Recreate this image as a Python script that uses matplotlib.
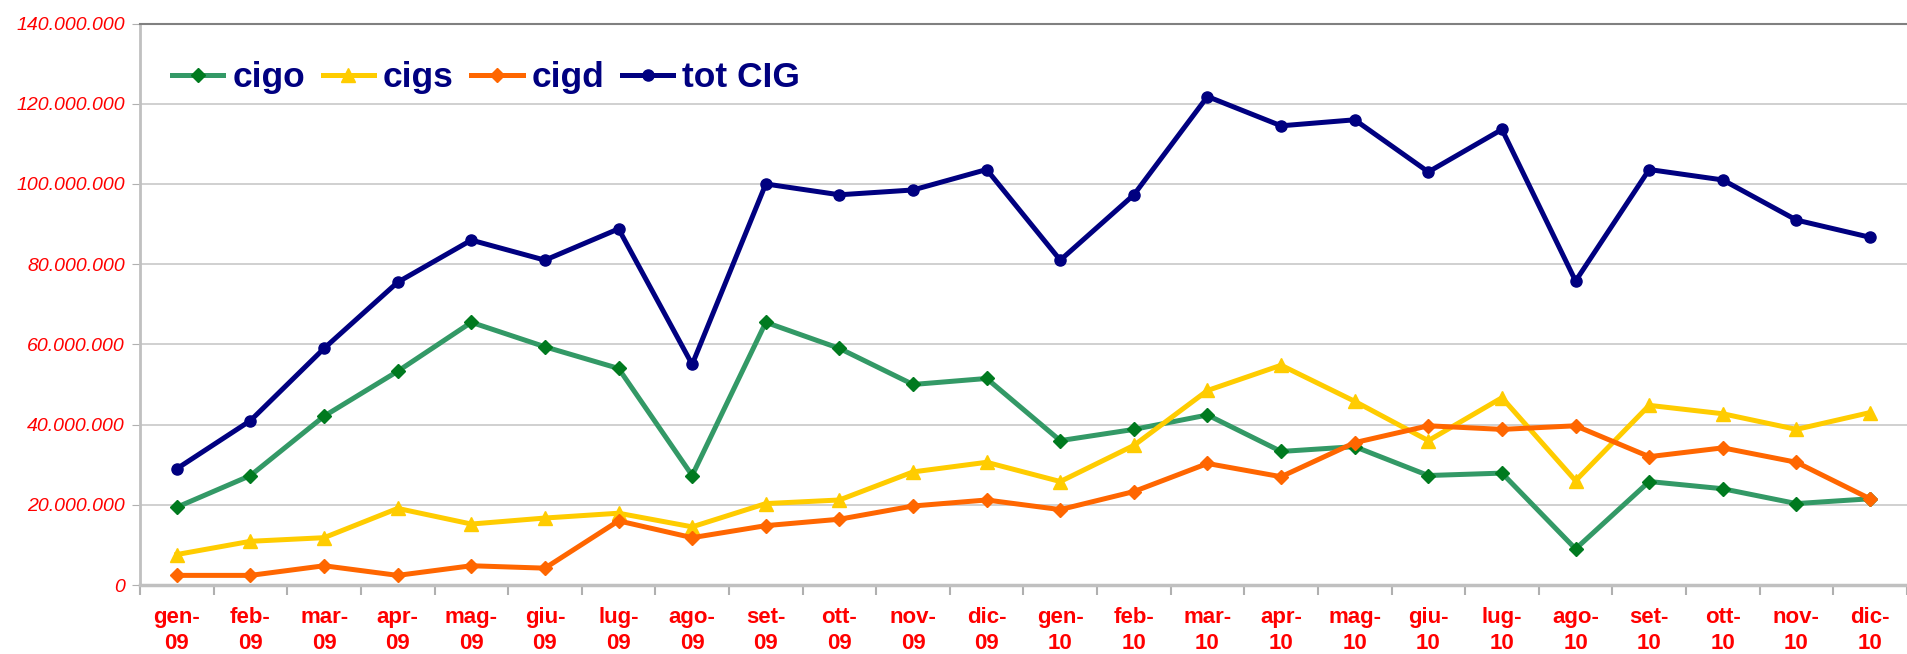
import matplotlib
matplotlib.use('Agg')
import matplotlib.pyplot as plt
from matplotlib.ticker import FuncFormatter

months = ['gen-\n09', 'feb-\n09', 'mar-\n09', 'apr-\n09', 'mag-\n09', 'giu-\n09',
          'lug-\n09', 'ago-\n09', 'set-\n09', 'ott-\n09', 'nov-\n09', 'dic-\n09',
          'gen-\n10', 'feb-\n10', 'mar-\n10', 'apr-\n10', 'mag-\n10', 'giu-\n10',
          'lug-\n10', 'ago-\n10', 'set-\n10', 'ott-\n10', 'nov-\n10', 'dic-\n10']

cigo = [19.4, 27.3, 42.1, 53.3, 65.5, 59.4, 54.0, 27.3, 65.5, 59.0, 50.0, 51.5,
        36.0, 38.8, 42.4, 33.3, 34.5, 27.3, 27.9, 9.0, 25.8, 24.0, 20.3, 21.5]
cigs = [7.6, 10.9, 11.8, 19.1, 15.2, 16.7, 17.9, 14.5, 20.3, 21.2, 28.2, 30.6,
        25.8, 34.8, 48.5, 54.8, 45.8, 36.0, 46.7, 26.0, 44.8, 42.7, 38.8, 43.0]
cigd = [2.4, 2.4, 4.8, 2.4, 4.8, 4.2, 16.0, 11.8, 14.8, 16.4, 19.7, 21.2,
        18.8, 23.3, 30.3, 27.0, 35.5, 39.7, 38.8, 39.7, 32.0, 34.2, 30.6, 21.5]
tot_cig = [29.0, 41.0, 59.0, 75.5, 86.0, 81.0, 88.8, 55.0, 100.0, 97.3, 98.5, 103.6,
           81.0, 97.3, 121.8, 114.5, 116.0, 103.0, 113.6, 75.8, 103.6, 101.0, 91.0, 86.7]

# values in millions -> units
scale = 1e6
x = list(range(len(months)))

plt.rcParams['font.family'] = ['Liberation Sans', 'DejaVu Sans']

fig = plt.figure(figsize=(19.08, 6.54), dpi=100)
ax = fig.add_axes([0.0734, 0.1055, 0.926, 0.8585])

lw = 3.6
ax.plot(x, [v * scale for v in cigo], color='#339966', lw=lw, marker='D', ms=7,
        mfc='#007a1f', mec='#007a1f', label='cigo', zorder=3)
ax.plot(x, [v * scale for v in cigs], color='#FFCC00', lw=lw, marker='^', ms=10,
        mfc='#FFCC00', mec='#FFCC00', label='cigs', zorder=3)
ax.plot(x, [v * scale for v in cigd], color='#FF6600', lw=lw, marker='D', ms=7,
        mfc='#FF6600', mec='#FF6600', label='cigd', zorder=3)
ax.plot(x, [v * scale for v in tot_cig], color='#000080', lw=lw, marker='o', ms=8,
        mfc='#000080', mec='#000080', label='tot CIG', zorder=4)

ax.set_xlim(-0.5, len(months) - 0.5)
ax.set_ylim(0, 140e6)
ax.set_yticks([i * 20e6 for i in range(8)])
ax.yaxis.set_major_formatter(FuncFormatter(lambda v, p: '{:,.0f}'.format(v).replace(',', '.')))
for lab in ax.get_yticklabels():
    lab.set_color('#FF0000')
    lab.set_fontstyle('italic')
    lab.set_fontsize(14)
ax.tick_params(axis='y', length=6, color='#b0b0b0', pad=5)

ax.set_xticks(x)
ax.set_xticklabels(months, color='#FF0000', fontweight='bold', fontsize=16,
                   linespacing=1.3)
ax.tick_params(axis='x', length=0, pad=16)
ax.set_xticks([i - 0.5 for i in range(len(months) + 1)], minor=True)
ax.tick_params(axis='x', which='minor', length=7, color='#b0b0b0', width=1.5)

ax.grid(axis='y', color='#c8c8c8', lw=1.2)
ax.set_axisbelow(True)
ax.spines['right'].set_visible(False)
ax.spines['top'].set_color('#808080')
ax.spines['top'].set_linewidth(1.5)
ax.spines['left'].set_color('#c0c0c0')
ax.spines['left'].set_linewidth(2)
ax.spines['bottom'].set_color('#c0c0c0')
ax.spines['bottom'].set_linewidth(2.5)

leg = ax.legend(loc='upper left', ncol=4, frameon=False, handlelength=1.45,
                columnspacing=0.5, handletextpad=0.25, borderaxespad=0.5,
                bbox_to_anchor=(0.0, 0.99),
                prop={'family': 'Liberation Sans', 'weight': 'bold', 'size': 25.5})
for t in leg.get_texts():
    t.set_color('#000080')

fig.savefig('out.png', dpi=100)
